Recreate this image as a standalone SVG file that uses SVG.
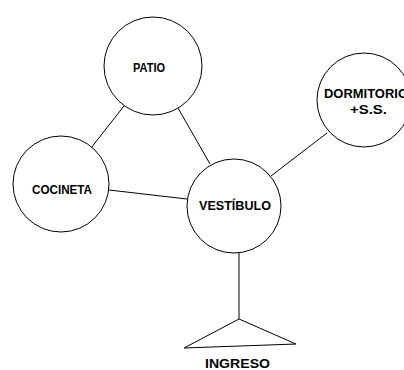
<svg xmlns="http://www.w3.org/2000/svg" width="404" height="370" viewBox="0 0 404 370">
<style>
.node circle{fill:#fff;stroke:#000;stroke-width:1}
.lbl{font-family:"Liberation Sans",Arial,sans-serif;font-size:13px;font-weight:bold;fill:#000}
#connectors line,#connectors polygon{stroke:#000;stroke-width:1;fill:none}
</style>
<rect width="404" height="370" fill="#fff"/>
<g id="connectors">
<line x1="124" y1="106" x2="91" y2="148"/>
<line x1="178" y1="108" x2="210" y2="164"/>
<line x1="109" y1="190" x2="187" y2="199"/>
<line x1="271" y1="176" x2="327" y2="133"/>
<line x1="239" y1="253" x2="239" y2="319"/>
</g>
<g id="patio" class="node">
<circle cx="153" cy="66" r="49"/>
<text class="lbl" x="133" y="72" textLength="32" lengthAdjust="spacingAndGlyphs">PATIO</text>
</g>
<g id="dormitorio" class="node">
<circle cx="364" cy="100" r="47"/>
<text class="lbl" x="324" y="98" textLength="84" lengthAdjust="spacingAndGlyphs">DORMITORIO</text>
<text class="lbl" x="350" y="114" textLength="37" lengthAdjust="spacingAndGlyphs">+S.S.</text>
</g>
<g id="cocineta" class="node">
<circle cx="61" cy="184" r="48"/>
<text class="lbl" x="32" y="194" textLength="60" lengthAdjust="spacingAndGlyphs">COCINETA</text>
</g>
<g id="vestibulo" class="node">
<circle cx="234" cy="206" r="47"/>
<text class="lbl" x="199" y="210" textLength="72" lengthAdjust="spacingAndGlyphs">VESTÍBULO</text>
</g>
<g id="ingreso" class="node">
<polygon points="239,319 184,348 296,344" fill="none" stroke="#000" stroke-width="1"/>
<text class="lbl" x="205" y="368" textLength="65" lengthAdjust="spacingAndGlyphs">INGRESO</text>
</g>
</svg>
